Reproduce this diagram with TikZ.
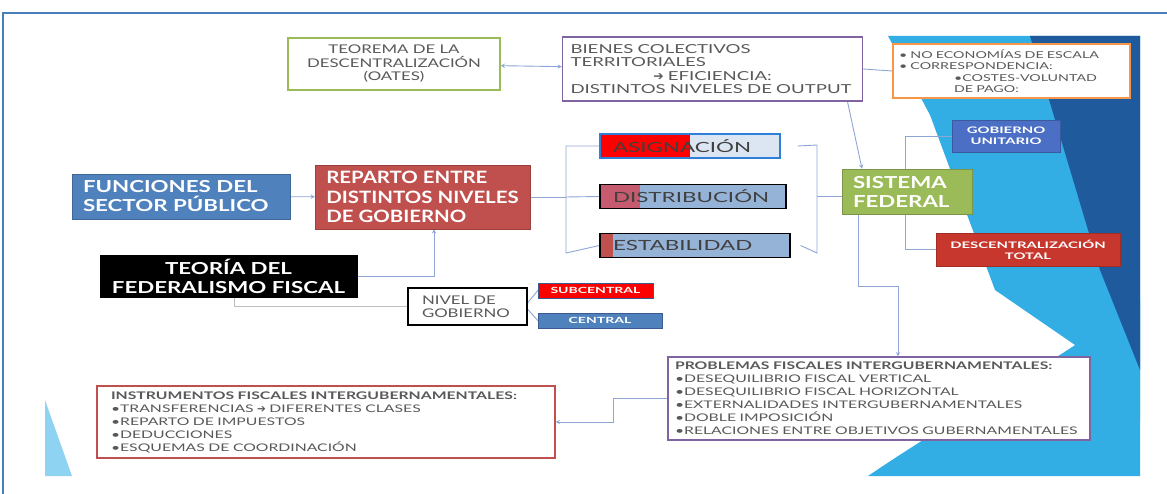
\documentclass[tikz,border=0pt]{standalone}
\usepackage{fontspec}
\setmainfont{Lato}
\newfontfamily\widefont{Lato}[FakeStretch=1.4]
\newfontfamily\widerfont{Lato}[FakeStretch=1.5]
\newfontfamily\barfont{Lato}[FakeStretch=1.6]
\newfontfamily\headfont{Lato}[FakeStretch=1.35]
\newfontfamily\repfont{Lato}[FakeStretch=1.2]
\newfontfamily\tagfont{Lato}[FakeStretch=1.65]
\newfontfamily\arrowfont{DejaVu Sans}
\usetikzlibrary{arrows, positioning, backgrounds, calc}
\definecolor{mFrame}{HTML}{4A7EBB}
\definecolor{mGray}{HTML}{595959}
\definecolor{mGreen}{HTML}{9BBB59}
\definecolor{mPurple}{HTML}{8064A2}
\definecolor{mOrange}{HTML}{F79646}
\definecolor{mBlue}{HTML}{4F81BD}
\definecolor{mBrick}{HTML}{C0504D}
\definecolor{mRed}{HTML}{FF0000}
\definecolor{mPale}{HTML}{DCE6F2}
\definecolor{mSky}{HTML}{95B3D7}
\definecolor{mRose}{HTML}{C65A6E}
\definecolor{mBlueLine}{HTML}{2F7FD8}
\definecolor{mUnit}{HTML}{4A6FC4}
\definecolor{mTotal}{HTML}{C8372D}
\definecolor{mLink}{HTML}{8EA5D6}
\definecolor{mCyan}{HTML}{33AEE5}
\definecolor{mCyanLight}{HTML}{8FD3F2}
\definecolor{mNavy}{HTML}{1E5A9C}
\definecolor{mEdge}{HTML}{3A5A90}

\begin{document}
\begin{tikzpicture}[x=1pt, y=-1pt,
    outline/.style={rectangle, draw=#1, line width=1.3pt, fill=white, text=mGray, inner sep=0pt, font=\widefont\fontsize{12}{13.5}\selectfont},
    headbox/.style={rectangle, fill=#1, draw=#1!80!black, text=white, inner ysep=0pt, align=left, font=\headfont\bfseries\fontsize{16.5}{19}\selectfont},
    tagbox/.style={rectangle, fill=#1, draw=#1!80!black, text=white, inner sep=0pt, align=center, font=\tagfont\bfseries\fontsize{9}{11}\selectfont},
    barbox/.style={rectangle, line width=1.2pt, text=black!75, inner xsep=13pt, inner ysep=0pt, align=left, minimum height=24pt, font=\barfont\fontsize{14}{15}\selectfont},
    splitbar/.style 2 args={path picture={\fill[#1] (path picture bounding box.north west) rectangle ([xshift=#2]path picture bounding box.south west);}},
    link/.style={draw=mLink, line width=0.9pt},
    arrow/.style={link, ->, >=stealth}
]
    \useasboundingbox (0,0) rectangle (1167,494);
    \draw[mFrame, line width=1.5pt] (1167,13) -- (3,13) -- (3,494);

    % slide background
    \begin{scope}[on background layer]
        \fill[mCyan] (888,36) -- (1140,36) -- (1140,420) -- (1075,345) -- (995,290) -- (930,115) -- cycle;
        \fill[mCyan] (868,476) .. controls (950,420) and (1060,360) .. (1140,300) -- (1140,476) -- cycle;
        \fill[mNavy] (1030,36) -- (1140,36) -- (1140,370) -- (1100,270) -- cycle;
        \fill[mCyanLight] (45,400) -- (72,476) -- (45,476) -- cycle;
    \end{scope}

    % top row
    \node[outline=mGreen, align=center, minimum width=212pt, minimum height=52pt] (teorema) at (394,64) {TEOREMA DE LA\\DESCENTRALIZACIÓN\\(OATES)};
    \node[outline=mPurple, align=left, text width=284pt, inner xsep=8pt, minimum height=64pt, font=\widerfont\fontsize{12.4}{13.5}\selectfont] (bienes) at (712.5,69) {BIENES COLECTIVOS\\TERRITORIALES\\\makebox[\linewidth]{{\arrowfont\bfseries ➔} EFICIENCIA:}\\DISTINTOS NIVELES DE OUTPUT};
    \node[outline=mOrange, align=left, text width=225pt, inner xsep=6pt, minimum height=54pt, font=\widerfont\fontsize{9.5}{11.5}\selectfont] (escala) at (1011.5,71) {\textbullet{} NO ECONOMÍAS DE ESCALA\\\textbullet{} CORRESPONDENCIA:\\\hspace*{55pt}\textbullet COSTES-VOLUNTAD\\\hspace*{55pt}DE PAGO:};

    % left column
    \node[headbox=mBlue, text width=196pt, inner xsep=11pt, minimum height=45pt] (funciones) at (181,196.5) {FUNCIONES DEL\\SECTOR PÚBLICO};
    \node[headbox=mBrick, minimum width=215pt, minimum height=64pt, font=\repfont\bfseries\fontsize{17}{19.5}\selectfont] (reparto) at (422.5,197) {REPARTO ENTRE\\DISTINTOS NIVELES\\DE GOBIERNO};
    \node[headbox=black, align=center, minimum width=257pt, minimum height=42pt] (teoria) at (228.5,276) {TEORÍA DEL\\FEDERALISMO FISCAL};
    \node[outline=black, line width=1.6pt, align=left, text width=91pt, inner xsep=14pt, minimum height=37pt] (nivel) at (467.5,306.5) {NIVEL DE\\GOBIERNO};
    \node[tagbox=mRed, draw=mEdge, minimum width=115pt, minimum height=15pt, font=\tagfont\bfseries\fontsize{8.5}{10}\selectfont] (subcentral) at (595.5,290.5) {SUBCENTRAL};
    \node[tagbox=mBlue, draw=mEdge, minimum width=124pt, minimum height=15pt, font=\tagfont\bfseries\fontsize{8.5}{10}\selectfont] (central) at (600,320.5) {CENTRAL};

    % functions
    \node[barbox, draw=mBlueLine, fill=mPale, splitbar={mRed}{90pt}, text width=154pt] (asignacion) at (690,146) {ASIGNACIÓN};
    \node[barbox, draw=black, fill=mSky, splitbar={mRose}{40pt}, text width=160pt] (distribucion) at (693,196.5) {DISTRIBUCIÓN};
    \node[barbox, draw=black, fill=mSky, splitbar={mBrick}{13pt}, text width=164pt] (estabilidad) at (695,245.5) {ESTABILIDAD};

    % right side
    \node[headbox=mGreen, text width=108pt, inner xsep=11pt, minimum height=45pt] (sistema) at (907,191.5) {SISTEMA\\FEDERAL};
    \node[tagbox=mUnit, minimum width=108pt, minimum height=32pt] (unitario) at (1006,136) {GOBIERNO\\UNITARIO};
    \node[tagbox=mTotal, minimum width=184pt, minimum height=33pt] (total) at (1028,249.5) {DESCENTRALIZACIÓN\\TOTAL};

    % bottom boxes
    \node[outline=mPurple, align=left, text width=408pt, inner xsep=7pt, minimum height=83pt, font=\widerfont\fontsize{10.5}{13}\selectfont] (problemas) at (879,398.5) {\textbf{PROBLEMAS FISCALES INTERGUBERNAMENTALES:}\\\textbullet DESEQUILIBRIO FISCAL VERTICAL\\\textbullet DESEQUILIBRIO FISCAL HORIZONTAL\\\textbullet EXTERNALIDADES INTERGUBERNAMENTALES\\\textbullet DOBLE IMPOSICIÓN\\\textbullet RELACIONES ENTRE OBJETIVOS GUBERNAMENTALES};
    \node[outline=mBrick, align=left, text width=430pt, inner xsep=14pt, minimum height=72pt, font=\widerfont\fontsize{10.5}{13}\selectfont] (instrumentos) at (326,422) {\textbf{INSTRUMENTOS FISCALES INTERGUBERNAMENTALES:}\\\textbullet TRANSFERENCIAS {\arrowfont\bfseries ➔} DIFERENTES CLASES\\\textbullet REPARTO DE IMPUESTOS\\\textbullet DEDUCCIONES\\\textbullet ESQUEMAS DE COORDINACIÓN};

    \coordinate (lt) at (566,146);
    \coordinate (lb) at (566,253);
    \coordinate (rt) at (817,145);
    \coordinate (rb) at (817,253);

    % connectors
    \begin{scope}[on background layer]
        \draw[arrow, <->] (teorema) -- (bienes);
        \draw[link] (bienes.east) -- (escala.west);
        \draw[arrow] ([xshift=135pt]bienes.south) -- ([xshift=-45pt]sistema.north);
        \draw[arrow] (funciones) -- (reparto);
        \draw[arrow] (teoria.east) -| ([xshift=11.5pt]reparto.south);
        \draw[link, draw=black!25] ([xshift=6pt]teoria.south) |- (nivel.west);
        \draw[link] ([yshift=4pt]nivel.east) -- (subcentral.west);
        \draw[link] ([yshift=-3pt]nivel.east) -- (central.west);
        \draw[link] (reparto.east) -- (reparto.east -| lt);
        \draw[link] (asignacion.west) -- (lt) -- (lb) -- (estabilidad.west);
        \draw[link] (reparto.east -| lt) -- (distribucion.west);
        \draw[link] ([xshift=17pt]asignacion.east) -- (rt) -- (rb) -- ([xshift=10pt]estabilidad.east);
        \draw[link] (rt |- distribucion.east) -- (distribucion.east -| sistema.west);
        \draw[link] (unitario.west) -- ++(-46,0) |- (total.west);
        \draw[arrow] ([xshift=-49pt]sistema.south) -- ++(0,72) -| ([xshift=19pt]problemas.north);
        \draw[arrow] (problemas.west) -- ++(-54,0) |- (instrumentos.east);
    \end{scope}
\end{tikzpicture}
\end{document}
